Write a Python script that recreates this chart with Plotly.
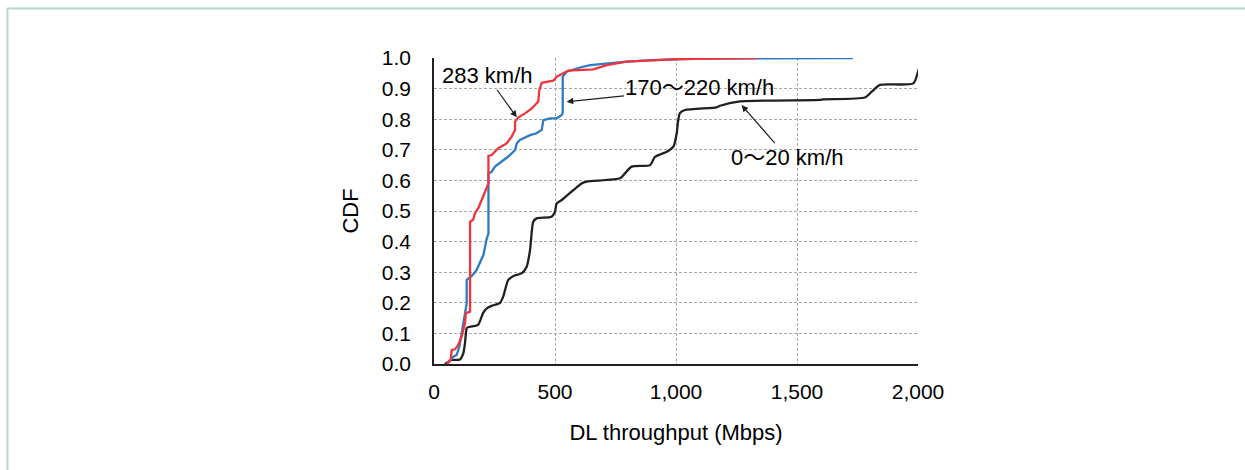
import plotly.graph_objects as go

# ---------------- data ----------------
x_0_20 = [45, 73, 107, 121, 128, 135, 140, 182, 203, 218, 238, 273, 286, 307, 335, 362, 383, 397, 410, 424,
          486, 500, 507, 528, 610, 631, 769, 789, 817, 893, 913, 962, 989, 1003, 1008, 1016, 1037, 1168,
          1182, 1264, 1595, 1608, 1781, 1809, 1843, 1981, 2000, 2010, 2030]
y_0_20 = [0.0, 0.013, 0.015, 0.035, 0.068, 0.117, 0.12, 0.128, 0.167, 0.182, 0.19, 0.2, 0.22, 0.275, 0.29,
          0.296, 0.318, 0.373, 0.465, 0.476, 0.481, 0.498, 0.525, 0.536, 0.59, 0.596, 0.607, 0.623, 0.645,
          0.65, 0.677, 0.694, 0.71, 0.754, 0.79, 0.82, 0.83, 0.839, 0.844, 0.858, 0.863, 0.865, 0.871,
          0.89, 0.912, 0.917, 0.955, 0.98, 1.0]

x_170_220 = [52, 66, 80, 94, 105, 114, 128, 135, 135, 156, 176, 190, 204, 218, 225, 225, 238, 252, 280, 307,
             335, 342, 355, 397, 424, 445, 452, 479, 507, 528, 532, 532, 548, 603, 645, 714, 796, 905, 1100,
             1731]
y_170_220 = [0.0, 0.01, 0.024, 0.03, 0.057, 0.1, 0.155, 0.198, 0.275, 0.288, 0.307, 0.334, 0.356, 0.41,
             0.427, 0.623, 0.628, 0.645, 0.661, 0.678, 0.699, 0.721, 0.732, 0.748, 0.754, 0.765, 0.797,
             0.803, 0.803, 0.814, 0.82, 0.939, 0.955, 0.969, 0.977, 0.983, 0.988, 0.993, 0.998, 1.0]

x_283 = [52, 69, 73, 87, 100, 114, 128, 132, 149, 149, 162, 169, 183, 197, 211, 225, 225, 238, 266, 300,
         321, 335, 335, 349, 376, 404, 431, 435, 445, 493, 507, 535, 555, 658, 714, 796, 1000, 1335]
y_283 = [0.0, 0.015, 0.046, 0.048, 0.062, 0.089, 0.133, 0.166, 0.171, 0.465, 0.471, 0.492, 0.509, 0.536,
         0.563, 0.59, 0.68, 0.683, 0.705, 0.721, 0.743, 0.765, 0.792, 0.806, 0.819, 0.835, 0.858, 0.895,
         0.919, 0.926, 0.939, 0.95, 0.959, 0.963, 0.977, 0.988, 0.996, 1.0]

series_names = ["0～20 km/h", "170～220 km/h", "283 km/h"]
# annotation: label, text centre (x, y), arrow target (x, y)
label_pos = [(1459, 0.676), (1099, 0.902), (219, 0.942)]
label_target = [(1271, 0.846), (548, 0.857), (342, 0.806)]

x_title = "DL throughput (Mbps)"
y_title = "CDF"

# ---------------- figure ----------------
W, H = 1245, 470
L, R, T, B = 434, 327, 58, 106
font_family = "Liberation Sans, Arial, Noto Sans CJK JP, sans-serif"

fig = go.Figure()
colors = ["#231f20", "#2e7bc4", "#f0343c"]
shapes = ["spline", "linear", "linear"]
for xs, ys, c, n, s in zip([x_0_20, x_170_220, x_283], [y_0_20, y_170_220, y_283], colors, series_names, shapes):
    fig.add_trace(go.Scatter(x=xs, y=ys, mode="lines", name=n,
                             line=dict(color=c, width=2.3, shape=s, smoothing=0.6), showlegend=False))

for name, (tx, ty), (px, py) in zip(series_names, label_pos, label_target):
    fig.add_annotation(x=px, y=py, ax=tx, ay=ty, xref="x", yref="y", axref="x", ayref="y",
                       text=name, showarrow=True, arrowhead=2, arrowsize=1.1, arrowwidth=1.2,
                       arrowcolor="#231f20", font=dict(size=22, color="#000000", family=font_family),
                       standoff=0, startstandoff=0)

pw, ph = W - L - R, H - T - B
def px2paper_x(p):
    return (p - L) / pw
def px2paper_y(p):
    return (H - B - p) / ph

border_color = "#b5d7d0"
fig.add_shape(type="line", xref="paper", yref="paper",
              x0=px2paper_x(7.5), x1=px2paper_x(7.5), y0=px2paper_y(8), y1=px2paper_y(472),
              line=dict(color=border_color, width=2))
fig.add_shape(type="line", xref="paper", yref="paper",
              x0=px2paper_x(7), x1=px2paper_x(1250), y0=px2paper_y(8.5), y1=px2paper_y(8.5),
              line=dict(color=border_color, width=2))

fig.update_layout(
    width=W, height=H,
    margin=dict(l=L, r=R, t=T, b=B, pad=0),
    paper_bgcolor="white", plot_bgcolor="white",
    font=dict(family=font_family, size=21, color="#000000"),
    xaxis=dict(range=[0, 2000], dtick=500, tick0=0, tickformat=",",
               showgrid=True, gridcolor="#a6a6a6", gridwidth=1, griddash="3px,2px",
               showline=True, linecolor="#231f20", linewidth=1.5, zeroline=False,
               ticks="outside", ticklen=8, tickcolor="rgba(0,0,0,0)",
               title=dict(text=x_title, standoff=23, font=dict(size=22))),
    yaxis=dict(range=[0, 1], dtick=0.1, tick0=0, tickformat=".1f",
               showgrid=True, gridcolor="#a6a6a6", gridwidth=1, griddash="3px,2px",
               showline=True, linecolor="#231f20", linewidth=1.5, zeroline=False,
               ticks="outside", ticklen=17, tickcolor="rgba(0,0,0,0)",
               title=dict(text=y_title, standoff=17, font=dict(size=22))),
)

fig.write_html("out.html")
